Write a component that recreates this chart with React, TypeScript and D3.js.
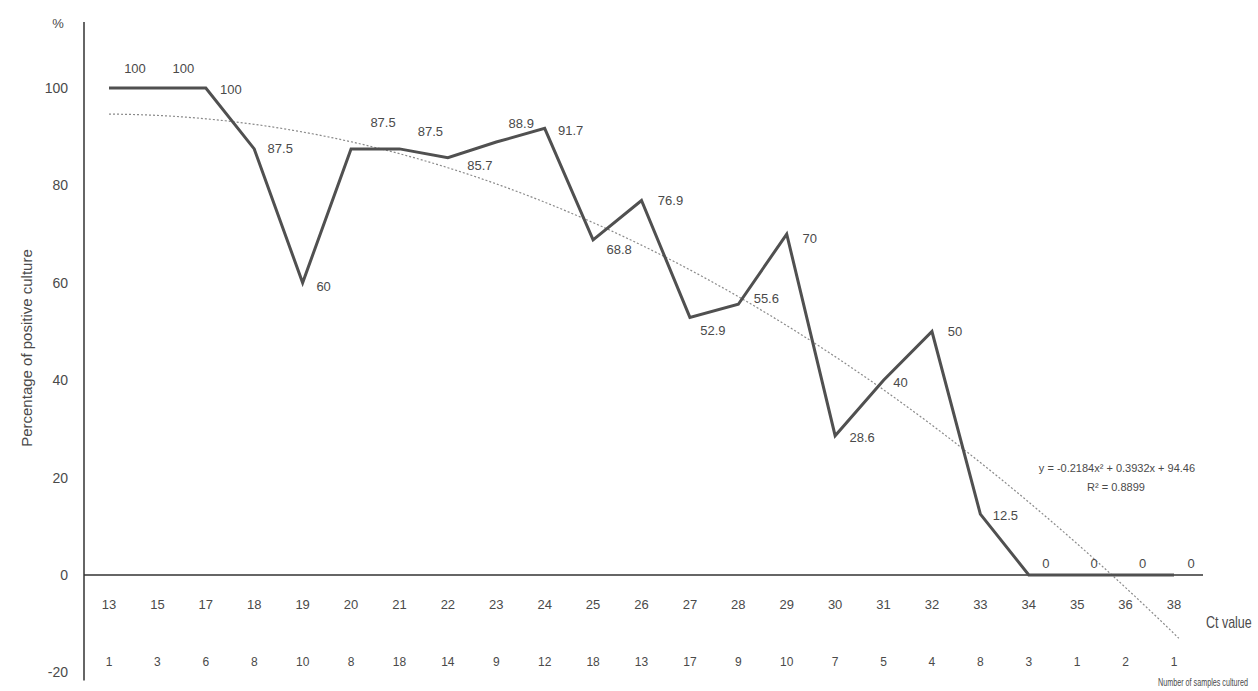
import React from "react";
import * as d3 from "d3";

// Ct value categories and number of samples cultured in each
const ctValues = ["13", "15", "17", "18", "19", "20", "21", "22", "23", "24", "25", "26", "27", "28", "29", "30", "31", "32", "33", "34", "35", "36", "38"];
const samplesCultured = [1, 3, 6, 8, 10, 8, 18, 14, 9, 12, 18, 13, 17, 9, 10, 7, 5, 4, 8, 3, 1, 2, 1];
// Percentage of positive culture per Ct value
const positivePct = [100, 100, 100, 87.5, 60, 87.5, 87.5, 85.7, 88.9, 91.7, 68.8, 76.9, 52.9, 55.6, 70, 28.6, 40, 50, 12.5, 0, 0, 0, 0];
const yTicks = [-20, 0, 20, 40, 60, 80, 100];

// Polynomial trendline (order 2), x = 1..n
const trendA = -0.2184;
const trendB = 0.3932;
const trendC = 94.46;
const trendR2 = 0.8899;

// Placement of value labels relative to their points [dx, dy]
const labelOffsets: [number, number][] = [
  [26, -20], [26, -20], [25, 1], [26, 0], [21, 4], [32, -26], [31, -17], [32, 8],
  [25, -19], [26, 2], [26, 10], [29, 0], [23, 13], [28, -6], [23, 4], [27, 2],
  [17, 2], [23, 0], [25, 1], [17, -12], [17, -12], [17, -12], [17, -12],
];

const W = 1258;
const H = 691;
const FONT = "'Liberation Sans', Arial, sans-serif";
const INK = "#4a4a4a";

export default function App() {
  const x = d3.scalePoint<string>().domain(ctValues).range([109, 1174]);
  const y = d3.scaleLinear().domain([0, 100]).range([575, 88]);
  const idx = d3.scaleLinear().domain([0, ctValues.length - 1]).range([x(ctValues[0])!, x(ctValues[ctValues.length - 1])!]);

  const line = d3
    .line<number>()
    .x((_, i) => x(ctValues[i])!)
    .y((d) => y(d));

  const trendPts = d3.range(1, ctValues.length + 0.15, 0.1).map((t) => [t, trendA * t * t + trendB * t + trendC]);
  const trend = d3
    .line<number[]>()
    .x((p) => idx(p[0] - 1))
    .y((p) => y(p[1]));

  const sign = (v: number) => (v < 0 ? "\u2013 " : "+ ");

  return (
    <svg width={W} height={H} style={{ position: "absolute", left: 0, top: 0, background: "#fff" }} fontFamily={FONT}>
      <rect x={0} y={0} width={W} height={H} fill="#fff" />
      {/* axes */}
      <line x1={84} x2={84} y1={y(100) - 66} y2={y(-20) + 8} stroke="#333" strokeWidth={1.5} />
      <line x1={84} x2={1203} y1={y(0)} y2={y(0)} stroke="#333" strokeWidth={1.5} />
      <text x={58} y={28} fontSize={13} fill={INK} textAnchor="middle">%</text>
      {yTicks.map((t) => (
        <text key={t} x={68} y={y(t)} dy="0.35em" fontSize={14} fill={INK} textAnchor="end">
          {t}
        </text>
      ))}
      <text transform={`translate(27,${348}) rotate(-90)`} fontSize={15} fill={INK} textAnchor="middle" dy="0.35em">
        Percentage of positive culture
      </text>

      {/* category rows */}
      {ctValues.map((c, i) => (
        <g key={c + i}>
          <text x={x(c)} y={604} dy="0.35em" fontSize={13} fill={INK} textAnchor="middle">{c}</text>
          <text x={x(c)} y={662} dy="0.35em" fontSize={12} fill={INK} textAnchor="middle">{samplesCultured[i]}</text>
        </g>
      ))}
      <text transform="translate(1206,622) scale(0.78,1)" dy="0.35em" fontSize={16} fill={INK}>Ct value</text>
      <text transform="translate(1158,682) scale(0.72,1)" dy="0.35em" fontSize={10} fill={INK}>Number of samples cultured</text>

      {/* trendline */}
      <path d={trend(trendPts) ?? ""} fill="none" stroke="#8a8a8a" strokeWidth={1.2} strokeDasharray="2,2" />
      <text x={1117} y={468} dy="0.35em" fontSize={11} fill={INK} textAnchor="middle">
        {`y = ${trendA}x² ${sign(trendB)}${Math.abs(trendB)}x ${sign(trendC)}${Math.abs(trendC)}`}
      </text>
      <text x={1116} y={487} dy="0.35em" fontSize={11} fill={INK} textAnchor="middle">
        {`R² = ${trendR2}`}
      </text>

      {/* data line */}
      <path d={line(positivePct) ?? ""} fill="none" stroke="#505050" strokeWidth={3} strokeLinejoin="miter" />
      {positivePct.map((v, i) => (
        <text
          key={i}
          x={x(ctValues[i])! + labelOffsets[i][0]}
          y={y(v) + labelOffsets[i][1]}
          dy="0.35em"
          fontSize={13}
          fill={INK}
          textAnchor="middle"
        >
          {String(v)}
        </text>
      ))}
    </svg>
  );
}
